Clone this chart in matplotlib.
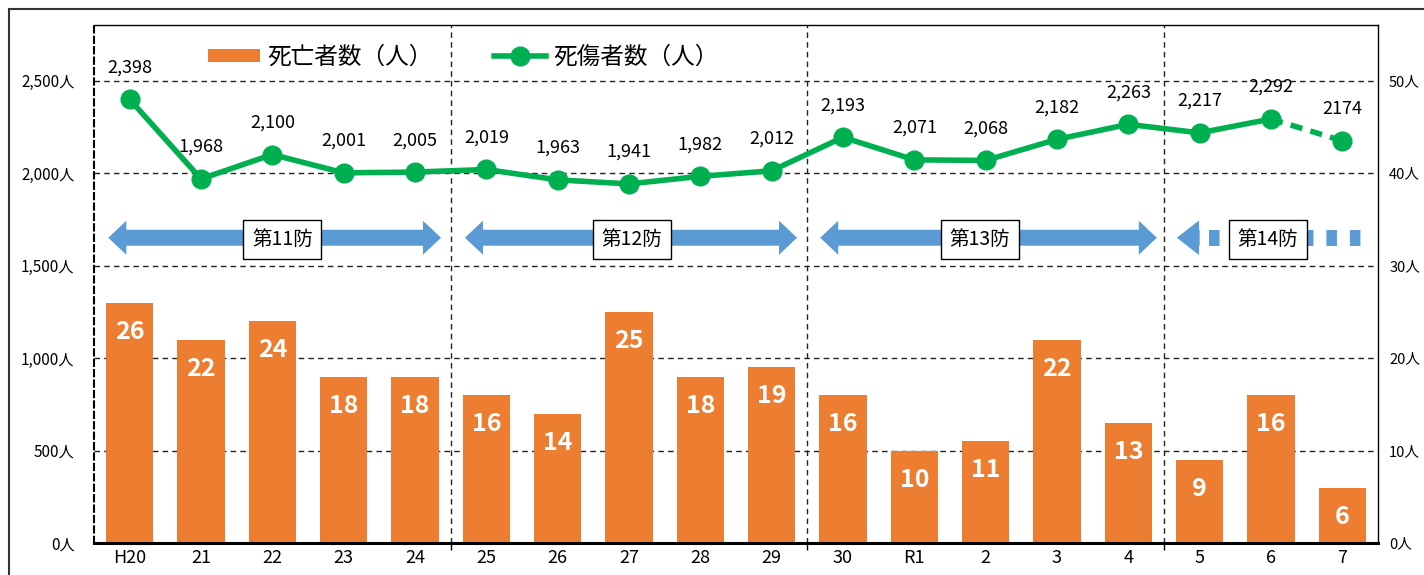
import matplotlib
matplotlib.use("Agg")
import matplotlib.pyplot as plt
from matplotlib.patches import FancyArrowPatch
from matplotlib.lines import Line2D

plt.rcParams['font.family'] = ['Noto Sans CJK JP', 'DejaVu Sans']

years = ["H20", "21", "22", "23", "24", "25", "26", "27", "28", "29",
         "30", "R1", "2", "3", "4", "5", "6", "7"]
deaths = [26, 22, 24, 18, 18, 16, 14, 25, 18, 19, 16, 10, 11, 22, 13, 9, 16, 6]
casualties = [2398, 1968, 2100, 2001, 2005, 2019, 1963, 1941, 1982, 2012,
              2193, 2071, 2068, 2182, 2263, 2217, 2292, 2174]
periods = ["第11防", "第12防", "第13防", "第14防"]
period_bounds = [4.5, 9.5, 14.5]

ORANGE = "#ED7D31"
GREEN = "#00B050"
BLUE = "#5B9BD5"

fig = plt.figure(figsize=(14.24, 5.75), dpi=100)
ax = fig.add_axes([94/1424, 32/575, 1284/1424, 518/575])
ax2 = ax.twinx()

x = list(range(len(years)))

# bars (deaths) on the right-hand scale
bars = ax.bar(x, deaths, width=0.66, color=ORANGE, zorder=2, label="死亡者数（人）")
for xi, d in zip(x, deaths):
    ax.annotate(str(d), (xi, d), xytext=(0, -21), textcoords="offset points",
                ha="center", va="center", color="white", fontsize=18,
                fontweight="bold", zorder=3)

ax.set_xlim(-0.5, len(years) - 0.5)
ax.set_ylim(0, 56)
ax.set_yticks([0, 10, 20, 30, 40, 50])
ax.set_yticklabels([f"{v}人" for v in [0, 10, 20, 30, 40, 50]], fontsize=10.5)
ax.yaxis.tick_right()
ax.tick_params(axis="y", length=0, pad=8)
ax.set_xticks(x)
ax.set_xticklabels(years, fontsize=13)
ax.tick_params(axis="x", length=0, pad=4)
ax.set_xticks(period_bounds, minor=True)
ax.tick_params(axis="x", which="minor", length=5, width=1, direction="out")
ax.set_axisbelow(True)
ax.yaxis.grid(True, linestyle=(0, (4, 3)), color="#222222", linewidth=1)

for b in period_bounds:
    ax.axvline(b, color="#222222", linestyle=(0, (4, 3)), linewidth=1, zorder=1)

ax.spines["bottom"].set_linewidth(2.2)
ax.spines["top"].set_linewidth(1)
ax.spines["right"].set_linewidth(1)
ax.spines["left"].set_linestyle((0, (3, 2)))
ax.spines["left"].set_linewidth(1.5)

# line (casualties) on the left-hand scale
ax2.set_ylim(0, 2800)
ax2.set_yticks([0, 500, 1000, 1500, 2000, 2500])
ax2.set_yticklabels([f"{v:,}人" for v in [0, 500, 1000, 1500, 2000, 2500]], fontsize=11)
ax2.yaxis.tick_left()
ax2.tick_params(axis="y", length=0, pad=14)
for s in ax2.spines.values():
    s.set_visible(False)

line, = ax2.plot(x[:-1], casualties[:-1], color=GREEN, lw=4, marker="o",
                 markersize=13.5, zorder=5, label="死傷者数（人）")
ax2.plot(x[-2:], casualties[-2:], color=GREEN, lw=4, linestyle=(0, (2.2, 1.5)),
         zorder=4)
ax2.plot(x[-1:], casualties[-1:], color=GREEN, marker="o", markersize=13.5,
         linestyle="none", zorder=5)

casualty_labels = [f"{v:,}" for v in casualties[:-1]] + [str(casualties[-1])]
for xi, v, lab in zip(x, casualties, casualty_labels):
    ax2.annotate(lab, (xi, v), xytext=(0, 23), textcoords="offset points",
                 ha="center", va="center", fontsize=13, zorder=6)

# period arrows
arrow_y = 1650
spans = [(-0.30, 4.365), (4.70, 9.356), (9.68, 14.40)]
astyle = "simple,head_length=13,head_width=24.5,tail_width=11.5"
for a, b in spans:
    mid = (a + b) / 2
    for tip in (a, b):
        ax2.add_patch(FancyArrowPatch((mid, arrow_y), (tip, arrow_y),
                                      arrowstyle=astyle, mutation_scale=1,
                                      color=BLUE, lw=0, shrinkA=0, shrinkB=0,
                                      zorder=3))
# fourth (ongoing) period: left head + dotted shaft
ax2.add_patch(FancyArrowPatch((15.0, arrow_y), (14.68, arrow_y),
                              arrowstyle="simple,head_length=16,head_width=25,tail_width=11.5",
                              mutation_scale=1, color=BLUE, lw=0, shrinkA=0,
                              shrinkB=0, zorder=3))
ax2.plot([15.13, 17.42], [arrow_y, arrow_y], color=BLUE, lw=11.5,
         linestyle=(0, (0.66, 0.81)), solid_capstyle="butt",
         dash_capstyle="butt", zorder=3)

label_x = [2.14, 7.04, 11.92, 15.96]
for lx, p in zip(label_x, periods):
    ax2.text(lx, arrow_y - 10, p, ha="center", va="center", fontsize=14, zorder=7,
             bbox=dict(boxstyle="square,pad=0.45", facecolor="white",
                       edgecolor="black", linewidth=1))

ax2.legend(handles=[bars, line], loc="center left", bbox_to_anchor=(0.0888, 0.938),
           ncol=2, frameon=False, fontsize=17, handlelength=2.2, handleheight=0.5,
           handletextpad=0.3, columnspacing=2.6, borderpad=0, borderaxespad=0)

# outer frame
fig.add_artist(Line2D([9/1424, 1], [1 - 9/575, 1 - 9/575], color="#333333", lw=1.5))
fig.add_artist(Line2D([9/1424, 9/1424], [0, 1 - 9/575], color="#333333", lw=1.5))

fig.savefig("out.png", dpi=100)
